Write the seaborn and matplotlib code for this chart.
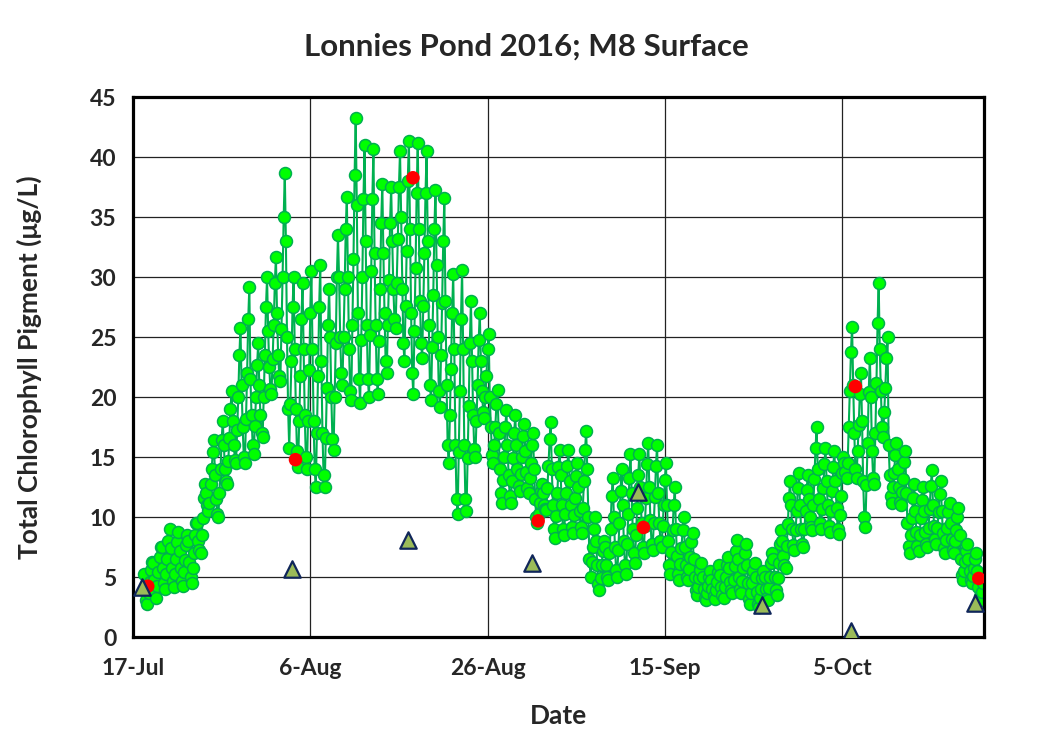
import numpy as np
import pandas as pd
import matplotlib
matplotlib.use("Agg")
import matplotlib.pyplot as plt
import matplotlib.dates as mdates
import seaborn as sns

# ---------------- data ----------------
title = "Lonnies Pond 2016; M8 Surface"
x_label = "Date"
y_label = "Total Chlorophyll Pigment (\u03bcg/L)"

# Sonde record: 3-hourly readings, one row per day, starting 18-Jul 06:00
sonde_start = "2016-07-18 06:00"
sonde_step = "3h"
sonde_chl = [
    [5.3, 4.0, 3.1, 2.8, 3.7, 4.6, 5.6, 6.3],
    [6.2, 4.8, 3.7, 3.3, 4.3, 5.4, 6.7, 7.5],
    [7.5, 5.8, 4.5, 4.0, 5.3, 6.5, 8.0, 9.0],
    [7.4, 5.8, 4.7, 4.2, 5.3, 6.5, 7.9, 8.8],
    [7.2, 5.8, 4.7, 4.3, 5.4, 6.4, 7.7, 8.5],
    [8.0, 6.3, 5.0, 4.5, 5.8, 7.0, 8.5, 9.5],
    [9.5, 8.0, 7.3, 7.0, 8.5, 9.9, 11.6, 12.8],
    [12.0, 11.0, 10.5, 11.2, 12.8, 14.0, 15.4, 16.4],
    [13.5, 11.5, 10.3, 10.0, 12.0, 14.0, 16.4, 18.0],
    [16.0, 14.0, 13.0, 12.8, 14.7, 16.6, 19.0, 20.5],
    [18.0, 16.0, 14.8, 14.5, 17.3, 20.0, 23.5, 25.8],
    [21.0, 17.5, 15.0, 14.5, 18.2, 22.0, 26.5, 29.2],
    [21.5, 18.5, 16.0, 15.3, 17.6, 20.0, 22.7, 24.5],
    [21.0, 18.5, 17.0, 16.7, 20.0, 23.5, 27.5, 30.0],
    [25.5, 22.5, 20.7, 20.3, 23.2, 26.0, 29.5, 31.7],
    [27.0, 23.5, 21.8, 21.4, 25.7, 30.0, 35.0, 38.7],
    [33.0, 25.0, 19.0, 15.8, 19.4, 23.0, 27.5, 30.0],
    [24.0, 19.0, 15.5, 14.2, 18.0, 21.8, 26.5, 29.5],
    [24.0, 18.5, 15.0, 14.0, 18.0, 22.3, 27.0, 30.5],
    [24.0, 18.0, 14.0, 12.5, 17.0, 21.8, 27.5, 31.0],
    [23.0, 17.0, 13.5, 12.5, 16.6, 20.8, 26.0, 29.0],
    [25.0, 20.0, 16.5, 15.6, 20.0, 24.5, 30.0, 33.5],
    [30.0, 25.0, 22.0, 21.0, 25.0, 29.0, 34.0, 36.7],
    [30.0, 24.0, 20.5, 19.8, 26.0, 31.5, 38.5, 43.3],
    [36.0, 27.0, 21.5, 19.5, 24.8, 30.0, 36.5, 41.0],
    [33.0, 26.0, 21.5, 20.0, 25.2, 30.5, 36.5, 40.7],
    [32.0, 26.0, 21.5, 20.3, 24.7, 29.0, 34.5, 37.8],
    [32.0, 27.0, 23.0, 22.0, 26.0, 29.8, 34.5, 37.5],
    [33.0, 29.0, 26.5, 25.8, 29.5, 33.2, 37.5, 40.5],
    [35.0, 29.0, 24.5, 23.0, 27.6, 32.2, 38.0, 41.4],
    [34.0, 27.0, 22.0, 20.3, 25.5, 30.8, 37.0, 41.2],
    [34.0, 28.0, 24.5, 23.3, 27.6, 32.0, 37.0, 40.5],
    [33.0, 26.0, 21.0, 19.8, 24.2, 28.5, 34.0, 37.3],
    [31.0, 25.0, 20.5, 19.2, 23.5, 27.9, 33.0, 36.6],
    [28.0, 21.0, 16.0, 14.5, 18.5, 22.4, 27.0, 30.3],
    [24.0, 16.0, 11.5, 10.3, 15.4, 20.5, 26.5, 30.6],
    [24.0, 16.0, 11.5, 10.5, 14.9, 19.3, 24.5, 28.0],
    [23.0, 18.5, 15.7, 15.0, 18.0, 21.0, 24.8, 27.0],
    [23.0, 20.5, 18.8, 18.3, 20.0, 21.8, 24.0, 25.3],
    [20.0, 17.5, 15.2, 14.5, 16.0, 17.5, 19.4, 20.6],
    [17.0, 14.0, 12.0, 11.2, 13.1, 15.0, 17.5, 18.9],
    [16.0, 13.5, 11.8, 11.2, 13.0, 14.9, 17.0, 18.5],
    [16.0, 14.0, 12.6, 12.2, 13.6, 15.0, 16.8, 17.8],
    [15.5, 13.8, 12.4, 12.0, 13.3, 14.5, 16.0, 17.0],
    [14.0, 11.5, 10.0, 9.5, 10.3, 11.2, 12.2, 12.8],
    [12.0, 11.0, 10.7, 10.6, 12.4, 14.3, 16.5, 17.9],
    [14.0, 11.0, 9.0, 8.3, 10.1, 12.0, 14.2, 15.6],
    [13.5, 11.0, 9.0, 8.5, 10.3, 12.0, 14.3, 15.6],
    [13.0, 11.0, 9.2, 8.7, 10.2, 11.6, 13.4, 14.5],
    [12.5, 10.5, 9.2, 8.7, 10.8, 13.0, 15.6, 17.2],
    [14.0, 10.0, 6.5, 5.0, 6.3, 7.5, 9.0, 10.0],
    [8.0, 6.0, 4.4, 3.9, 4.9, 6.0, 7.2, 8.0],
    [7.5, 6.0, 5.0, 4.8, 7.0, 9.0, 11.8, 13.3],
    [10.0, 7.5, 5.6, 5.0, 7.3, 9.5, 12.2, 14.0],
    [11.0, 8.0, 6.0, 5.3, 7.8, 10.3, 13.3, 15.3],
    [12.0, 9.0, 7.0, 6.2, 8.5, 10.8, 13.5, 15.3],
    [12.5, 9.5, 7.5, 7.0, 9.3, 11.6, 14.4, 16.2],
    [12.5, 9.8, 7.8, 7.3, 9.5, 11.7, 14.3, 16.0],
    [12.0, 9.5, 8.0, 7.5, 9.3, 11.0, 13.1, 14.5],
    [11.0, 8.0, 6.0, 5.3, 7.1, 8.9, 11.0, 12.5],
    [9.0, 6.8, 5.3, 4.8, 6.1, 7.4, 8.9, 10.0],
    [7.5, 6.0, 5.0, 4.75, 5.7, 6.7, 7.9, 8.7],
    [6.5, 5.0, 3.9, 3.5, 4.2, 4.9, 5.6, 6.2],
    [5.0, 4.0, 3.3, 3.1, 3.7, 4.3, 5.0, 5.5],
    [4.8, 4.0, 3.4, 3.2, 3.9, 4.6, 5.4, 6.0],
    [5.2, 4.2, 3.5, 3.3, 4.2, 5.0, 6.0, 6.7],
    [5.8, 4.6, 3.9, 3.7, 4.8, 5.9, 7.2, 8.1],
    [6.5, 5.0, 4.0, 3.7, 4.7, 5.8, 7.0, 7.8],
    [6.0, 4.5, 3.2, 2.8, 3.7, 4.5, 5.5, 6.2],
    [5.0, 3.8, 2.8, 2.5, 3.3, 4.0, 4.9, 5.5],
    [5.0, 4.0, 3.3, 3.1, 4.1, 5.0, 6.2, 7.0],
    [6.5, 5.0, 3.9, 3.5, 4.9, 6.2, 7.8, 8.9],
    [8.0, 6.8, 6.0, 5.8, 7.6, 9.4, 11.6, 13.0],
    [11.0, 9.0, 7.7, 7.3, 8.9, 10.5, 12.4, 13.7],
    [11.0, 9.0, 7.8, 7.5, 9.0, 10.5, 12.3, 13.5],
    [11.5, 10.0, 9.2, 8.9, 11.0, 13.2, 15.8, 17.5],
    [14.0, 11.5, 9.5, 9.0, 10.7, 12.4, 14.4, 15.8],
    [13.0, 11.0, 9.3, 8.8, 10.5, 12.2, 14.2, 15.5],
    [13.0, 10.8, 9.0, 8.6, 10.2, 11.8, 13.7, 15.0],
    [14.5, 13.8, 13.3, 14.5, 17.5, 20.5, 23.8, 25.9],
    [21.0, 17.0, 14.0, 13.3, 15.5, 17.7, 20.3, 22.0],
    [18.0, 13.0, 10.0, 9.2, 12.7, 16.2, 20.4, 23.3],
    [20.0, 15.5, 13.3, 12.8, 17.0, 21.2, 26.2, 29.5],
    [24.0, 20.5, 17.5, 16.7, 18.8, 20.8, 23.3, 25.0],
    [16.0, 13.5, 11.8, 11.2, 12.5, 13.7, 15.2, 16.2],
    [14.0, 12.5, 11.3, 11.0, 12.1, 13.2, 14.6, 15.5],
    [12.0, 9.5, 7.6, 7.0, 8.5, 9.9, 11.6, 12.8],
    [10.5, 8.8, 7.6, 7.2, 8.5, 9.9, 11.4, 12.5],
    [10.5, 8.8, 7.8, 7.5, 9.1, 10.7, 12.6, 13.9],
    [11.0, 9.3, 8.2, 7.8, 9.1, 10.4, 11.9, 13.0],
    [10.5, 8.7, 7.4, 7.0, 8.1, 9.1, 10.4, 11.2],
    [9.5, 8.2, 7.3, 7.0, 8.0, 8.9, 10.0, 10.8],
    [8.5, 6.5, 5.2, 4.75, 5.5, 6.3, 7.2, 7.8],
    [6.5, 5.5, 4.8, 4.5, 5.1, 5.8, 6.5, 7.0],
    [5.5, 4.2, 3.4, 3.1, 3.8, 4.5],
]

# Lab samples (red dots)
lab_dates = ["2016-07-18 16:00", "2016-08-04 08:00", "2016-08-17 14:00",
             "2016-08-31 17:00", "2016-09-12 14:00", "2016-10-06 12:00",
             "2016-10-20 10:00"]
lab_chl = [4.25, 14.8, 38.3, 9.7, 9.15, 20.9, 4.9]

# Other samples (triangles)
tri_dates = ["2016-07-18 00:00", "2016-08-03 22:00", "2016-08-17 00:00",
             "2016-08-31 00:00", "2016-09-12 00:00", "2016-09-26 00:00",
             "2016-10-06 00:00", "2016-10-20 00:00"]
tri_chl = [4.2, 5.7, 8.1, 6.2, 12.1, 2.7, 0.55, 2.85]

x_ticks = ["2016-07-17", "2016-08-06", "2016-08-26", "2016-09-15", "2016-10-05"]
x_min, x_max = "2016-07-17", "2016-10-21"
y_ticks = [0, 5, 10, 15, 20, 25, 30, 35, 40, 45]

# ---------------- build frames ----------------
vals = np.concatenate([np.asarray(r, dtype=float) for r in sonde_chl])
sonde = pd.DataFrame({
    "time": pd.date_range(sonde_start, periods=len(vals), freq=sonde_step),
    "chl": vals,
})
lab = pd.DataFrame({"time": pd.to_datetime(lab_dates), "chl": lab_chl})
tri = pd.DataFrame({"time": pd.to_datetime(tri_dates), "chl": tri_chl})

# ---------------- style ----------------
sns.set_style("white")
plt.rcParams["font.family"] = ["Lato", "DejaVu Sans"]
plt.rcParams["font.weight"] = "bold"

fig = plt.figure(figsize=(10.39, 7.55), dpi=100)
ax = fig.add_axes([0.128, 0.156, 0.819, 0.715])

sns.lineplot(data=sonde, x="time", y="chl", sort=False, ax=ax,
             color="#00B050", linewidth=1.5, marker="o", markersize=8.6,
             markerfacecolor="#00FF00", markeredgecolor="#00B050",
             markeredgewidth=1.1, zorder=2, legend=False)
sns.scatterplot(data=lab, x="time", y="chl", ax=ax, color="#FF0000",
                s=95, edgecolor="none", zorder=4, legend=False)
sns.scatterplot(data=tri, x="time", y="chl", ax=ax, marker="^",
                color="#9BBB59", s=140, edgecolor="#10265A", linewidth=1.6,
                zorder=5, legend=False)

ax.set_xlim(pd.Timestamp(x_min), pd.Timestamp(x_max))
ax.set_ylim(0, 45)
ax.set_yticks(y_ticks)
ax.set_xticks(pd.to_datetime(x_ticks))
ax.xaxis.set_major_formatter(mdates.DateFormatter("%-d-%b"))

ax.set_axisbelow(True)
ax.grid(True, color="#222222", linewidth=0.9)
for s in ax.spines.values():
    s.set_visible(True)
    s.set_color("black")
    s.set_linewidth(2.3)

ax.tick_params(axis="both", length=0, labelsize=16.5)
ax.tick_params(axis="x", pad=15)
ax.tick_params(axis="y", pad=12)
for lab_t in ax.get_xticklabels() + ax.get_yticklabels():
    lab_t.set_fontweight("bold")

ax.set_xlabel(x_label, fontsize=19, fontweight="bold", labelpad=18)
ax.set_ylabel(y_label, fontsize=19, fontweight="bold", labelpad=34)
fig.suptitle(title, fontsize=22.5, fontweight="bold", x=0.507, y=0.938,
             va="center")

fig.savefig("out.png", dpi=100)
